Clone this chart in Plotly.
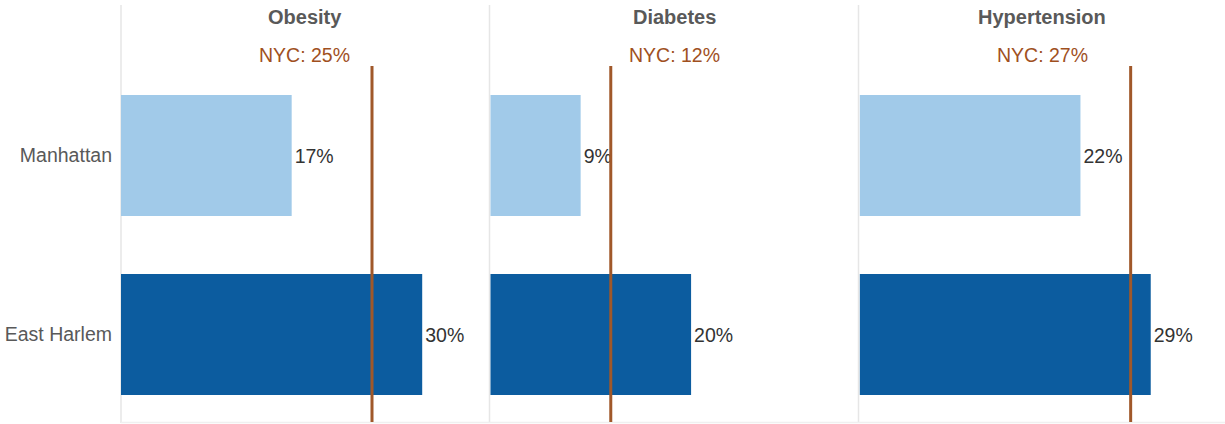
import plotly.graph_objects as go

conditions = ["Obesity", "Diabetes", "Hypertension"]
areas = ["Manhattan", "East Harlem"]
manhattan = [17, 9, 22]
east_harlem = [30, 20, 29]
nyc = [25, 12, 27]

light = "#A1CAE9"
dark = "#0C5C9F"
line_col = "#A0582A"
font_family = "Liberation Sans, Arial, sans-serif"

W, H = 1225, 424
ML, MT, MB = 121, 66, 0
PW = W - ML
PH = H - MT - MB
scale = 10.04  # px per percentage point

domains = [[0.0, 0.3333], [0.3345, 0.6678], [0.669, 1.0]]
sep_px = [121, 489.5, 858.5]

def py(ypix):
    return (H - MB - ypix) / PH

fig = go.Figure()
for i, cond in enumerate(conditions):
    xa = "x" if i == 0 else f"x{i+1}"
    ya = "y" if i == 0 else f"y{i+1}"
    vals = [manhattan[i], east_harlem[i]]
    fig.add_trace(go.Bar(
        x=vals, y=areas, orientation="h",
        marker=dict(color=[light, dark], line=dict(width=0)),
        text=[f"{v}%" for v in vals], textposition="outside",
        textfont=dict(size=19.5, color="#333333", family=font_family),
        cliponaxis=False, showlegend=False,
        xaxis=xa, yaxis=ya, hoverinfo="skip",
    ))
    d0, d1 = domains[i]
    xr = (d1 - d0) * PW / scale
    xkey = "xaxis" if i == 0 else f"xaxis{i+1}"
    ykey = "yaxis" if i == 0 else f"yaxis{i+1}"
    fig.update_layout(**{
        xkey: dict(domain=[d0, d1], range=[0, xr], visible=False, anchor=ya, fixedrange=True),
        ykey: dict(anchor=xa, autorange="reversed", showgrid=False, zeroline=False,
                   showticklabels=(i == 0), ticks="", ticklabelstandoff=8,
                   tickfont=dict(size=19.5, color="#595959", family=font_family)),
    })
    # NYC reference line
    fig.add_shape(type="line", xref=xa, yref="paper", x0=nyc[i], x1=nyc[i], y0=py(422), y1=1,
                  line=dict(color=line_col, width=3), layer="above")
    # panel separator
    sx = (sep_px[i] - ML) / PW
    fig.add_shape(type="line", xref="paper", yref="paper", x0=sx, x1=sx, y0=py(423), y1=py(5),
                  line=dict(color="#E6E6E6", width=1.5), layer="below")
    # titles
    cx = (d0 + d1) / 2
    fig.add_annotation(text=f"<b>{cond}</b>", xref="paper", yref="paper", x=cx, y=py(17),
                       xanchor="center", yanchor="middle", showarrow=False,
                       font=dict(size=20, color="#595959", family=font_family))
    fig.add_annotation(text=f"NYC: {nyc[i]}%", xref="paper", yref="paper", x=cx, y=py(55),
                       xanchor="center", yanchor="middle", showarrow=False,
                       font=dict(size=19.5, color="#A0501E", family=font_family))

# bottom baseline
fig.add_shape(type="line", xref="paper", yref="paper", x0=0, x1=1, y0=py(422.5), y1=py(422.5),
              line=dict(color="#F0F0F0", width=1.5), layer="below")

fig.update_layout(
    width=W, height=H,
    margin=dict(l=ML, r=0, t=MT, b=MB),
    bargap=0.324,
    plot_bgcolor="white", paper_bgcolor="white",
    font=dict(family=font_family),
)
fig.write_html("out.html")
